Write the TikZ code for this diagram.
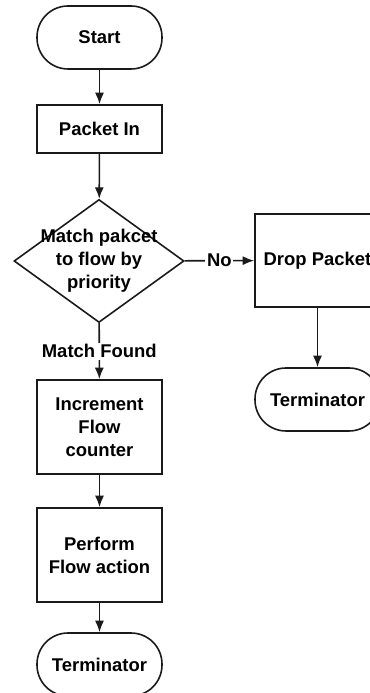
\documentclass[tikz,border=0pt]{standalone}
\usepackage{fontspec}
\setmainfont{Liberation Sans}
\usepackage{tikz}
\usetikzlibrary{shapes.geometric,arrows.meta}
\definecolor{FCLine}{HTML}{1A1A1A}

\begin{document}
\begin{tikzpicture}[x=1cm,y=1cm,
  every node/.style={font=\fontsize{10.5}{13}\selectfont\bfseries},
  termbox/.style={draw=FCLine,line width=.9pt,rounded corners=.62cm,minimum width=2.5cm,minimum height=1.26cm,align=center},
  procbox/.style={draw=FCLine,line width=.9pt,minimum width=2.5cm,align=center},
  decbox/.style={draw=FCLine,line width=.9pt,diamond,inner sep=0pt,minimum width=3.4cm,minimum height=2.46cm},
  flow/.style={draw=FCLine,line width=.9pt,-{Latex[length=.23cm,width=.18cm]}},
  flowlbl/.style={fill=white,inner sep=1pt}]
\path[use as bounding box] (0,0) rectangle (7.40,13.86);
\fill[white] (0,0) rectangle (7.40,13.86);
% main column
\node[termbox] (start) at (1.99,13.11) {Start};
\node[procbox,minimum height=.96cm] (pktin) at (1.99,11.28) {Packet In};
\node[decbox] (match) at (1.98,8.64) {\makebox[0pt]{\begin{tabular}{@{}c@{}}Match pakcet\\to flow by\\priority\end{tabular}}};
\node[procbox,minimum height=1.88cm] (incr) at (1.99,5.32) {Increment\\Flow\\counter};
\node[procbox,minimum height=1.88cm] (perform) at (1.99,2.76) {Perform\\Flow action};
\node[termbox] (endL) at (1.99,0.57) {Terminator};
% drop branch
\node[procbox,minimum height=1.86cm] (drop) at (6.35,8.65) {Drop Packet};
\node[termbox] (endR) at (6.35,5.87) {Terminator};
% connectors
\draw[flow] (start) -- (pktin);
\draw[flow] (pktin) -- (match);
\draw[flow] (match) -- node[flowlbl] {No} (drop);
\draw[flow] (match) -- node[flowlbl] {Match Found} (incr);
\draw[flow] (incr) -- (perform);
\draw[flow] (perform) -- (endL);
\draw[flow] (drop) -- (endR);
\end{tikzpicture}
\end{document}
